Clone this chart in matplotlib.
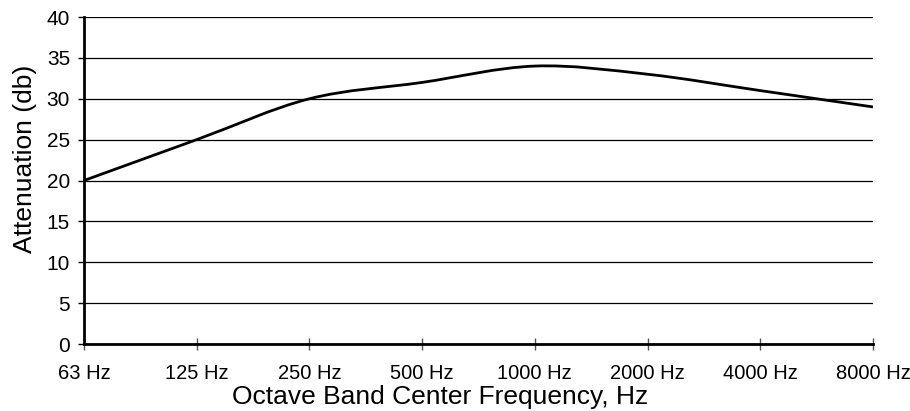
import matplotlib
matplotlib.use("Agg")
import matplotlib.pyplot as plt
from matplotlib.path import Path
from matplotlib.patches import PathPatch

plt.rcParams['font.family'] = ['Liberation Sans', 'DejaVu Sans']

bands = ['63 Hz', '125 Hz', '250 Hz', '500 Hz', '1000 Hz', '2000 Hz', '4000 Hz', '8000 Hz']
attenuation = [20, 25, 30, 32, 34, 33, 31, 29]


def smooth_path(xs, ys):
    """Excel-style smoothed line: cubic Bezier through every point."""
    n = len(xs)
    verts = [(xs[0], ys[0])]
    codes = [Path.MOVETO]
    for i in range(n - 1):
        x0, y0 = (xs[i - 1], ys[i - 1]) if i > 0 else (xs[i], ys[i])
        x1, y1 = xs[i], ys[i]
        x2, y2 = xs[i + 1], ys[i + 1]
        x3, y3 = (xs[i + 2], ys[i + 2]) if i + 2 < n else (x2, y2)
        c1 = (x1 + (x2 - x0) / 6, y1 + (y2 - y0) / 6)
        c2 = (x2 - (x3 - x1) / 6, y2 - (y3 - y1) / 6)
        verts += [c1, c2, (x2, y2)]
        codes += [Path.CURVE4] * 3
    return Path(verts, codes)


fig = plt.figure(figsize=(9.1, 4.11), dpi=100)
ax = fig.add_axes([0.0923, 0.163, 0.867, 0.7956])

xs = list(range(len(bands)))
ax.add_patch(PathPatch(smooth_path(xs, attenuation), facecolor='none',
                       edgecolor='black', linewidth=2, zorder=3))

ax.set_xlim(0, len(bands) - 1)
ax.set_ylim(0, 40)
ax.set_yticks(range(0, 41, 5))
ax.set_xticks(xs)
ax.set_xticklabels(bands)
ax.grid(axis='y', color='black', linewidth=0.9)
ax.set_axisbelow(True)

for s in ['top', 'right']:
    ax.spines[s].set_visible(False)
ax.spines['left'].set_linewidth(2)
ax.spines['bottom'].set_linewidth(2)
ax.spines['bottom'].set_zorder(4)

ax.tick_params(axis='y', direction='out', length=4.5, width=1, labelsize=15, pad=5.5)
ax.tick_params(axis='x', direction='inout', length=9, width=1, labelsize=14.5, pad=10,
               color='#555555')

ax.set_ylabel('Attenuation (db)', fontsize=19)
ax.set_xlabel('Octave Band Center Frequency, Hz', fontsize=19)
ax.yaxis.set_label_coords(-0.060, 0.567)
ax.xaxis.set_label_coords(0.451, -0.126)

fig.savefig('out.png', dpi=100)
